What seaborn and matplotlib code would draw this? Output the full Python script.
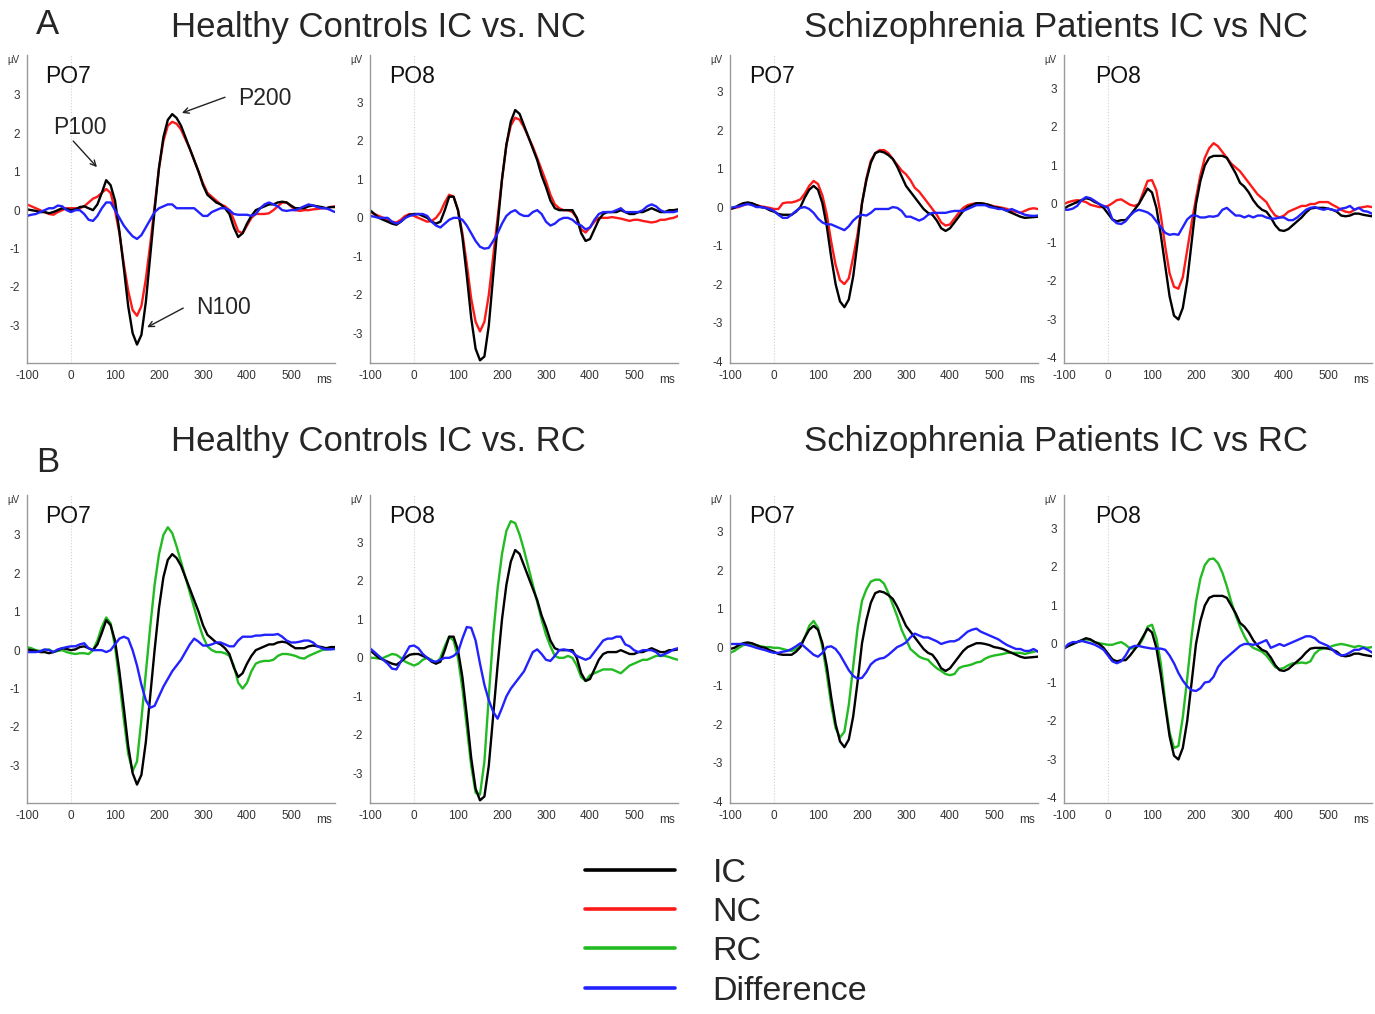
import numpy as np
import pandas as pd
import matplotlib
matplotlib.use("Agg")
import matplotlib.pyplot as plt
from matplotlib.ticker import MultipleLocator
from matplotlib.lines import Line2D
import seaborn as sns

# ---------------------------------------
# Data (µV, sampled every 10 ms from -100 to 600 ms)
# ---------------------------------------
times = np.arange(-100, 601, 10)

# Healthy controls, PO7
hc_po7_ic = [0.02, 0.0, -0.02, -0.05, -0.05, -0.08, -0.05, 0.0, 0.05, 0.03,
             0.0, 0.02, 0.08, 0.1, 0.05, 0.0, 0.15, 0.45, 0.78, 0.65,
             0.25, -0.55, -1.5, -2.5, -3.2, -3.5, -3.25, -2.4, -1.2, 0.0,
             1.1, 1.9, 2.35, 2.5, 2.4, 2.2, 1.9, 1.6, 1.3, 1.0,
             0.65, 0.4, 0.3, 0.2, 0.15, 0.05, -0.1, -0.45, -0.7, -0.6,
             -0.35, -0.15, 0.0, 0.05, 0.1, 0.15, 0.15, 0.2, 0.22, 0.2,
             0.12, 0.05, 0.05, 0.05, 0.1, 0.12, 0.1, 0.08, 0.05, 0.08,
             0.08]
hc_po7_nc = [0.15, 0.1, 0.05, 0.0, -0.05, -0.1, -0.12, -0.05, 0.0, 0.05,
             0.05, 0.05, 0.05, 0.1, 0.2, 0.3, 0.35, 0.45, 0.55, 0.45,
             0.0, -0.6, -1.4, -2.1, -2.6, -2.75, -2.5, -1.8, -0.9, 0.1,
             1.1, 1.8, 2.2, 2.3, 2.25, 2.1, 1.85, 1.6, 1.3, 1.0,
             0.7, 0.45, 0.35, 0.25, 0.15, 0.1, 0.0, -0.25, -0.55, -0.6,
             -0.4, -0.2, -0.1, -0.1, -0.1, -0.08, 0.0, 0.1, 0.2, 0.2,
             0.1, 0.0, -0.02, 0.0, 0.0, 0.02, 0.03, 0.05, 0.05, 0.08,
             0.1]
hc_po7_diff_nc = [-0.15, -0.12, -0.1, -0.05, 0.0, 0.05, 0.05, 0.12, 0.1, 0.0,
                  -0.05, 0.0, 0.0, -0.1, -0.25, -0.28, -0.15, 0.05, 0.2, 0.2,
                  0.0, -0.2, -0.4, -0.55, -0.68, -0.75, -0.65, -0.45, -0.25, -0.05,
                  0.05, 0.1, 0.15, 0.15, 0.05, 0.05, 0.05, 0.05, 0.05, -0.05,
                  -0.15, -0.15, -0.05, 0.0, 0.05, 0.05, 0.0, -0.1, -0.12, -0.12,
                  -0.12, -0.15, -0.1, 0.05, 0.15, 0.2, 0.15, 0.1, 0.0, -0.02,
                  0.0, 0.0, 0.05, 0.1, 0.15, 0.12, 0.08, 0.05, 0.05, 0.0,
                  -0.05]
hc_po7_rc = [0.08, 0.05, 0.0, -0.02, 0.0, 0.02, -0.05, -0.02, 0.0, -0.05,
             -0.08, -0.1, -0.08, -0.08, -0.1, 0.0, 0.25, 0.6, 0.85, 0.7,
             0.1, -0.8, -1.8, -2.7, -3.15, -2.9, -1.8, -0.6, 0.6, 1.7,
             2.5, 3.0, 3.2, 3.05, 2.7, 2.3, 1.9, 1.5, 1.1, 0.7,
             0.35, 0.1, 0.0, -0.05, -0.05, -0.08, -0.15, -0.4, -0.85, -1.0,
             -0.85, -0.55, -0.35, -0.3, -0.28, -0.28, -0.25, -0.15, -0.1, -0.1,
             -0.12, -0.15, -0.2, -0.22, -0.15, -0.1, -0.05, 0.0, 0.02, 0.03,
             0.05]
hc_po7_diff_rc = [-0.05, -0.05, -0.05, -0.03, 0.02, 0.0, -0.05, 0.02, 0.05, 0.08,
                  0.1, 0.1, 0.15, 0.18, 0.05, 0.0, 0.0, 0.0, -0.05, 0.0,
                  0.15, 0.3, 0.35, 0.3, 0.0, -0.4, -0.9, -1.3, -1.5, -1.45,
                  -1.2, -0.95, -0.75, -0.55, -0.4, -0.25, -0.05, 0.15, 0.3, 0.22,
                  0.12, 0.12, 0.15, 0.2, 0.2, 0.15, 0.1, 0.1, 0.25, 0.35,
                  0.35, 0.35, 0.38, 0.38, 0.4, 0.4, 0.4, 0.42, 0.35, 0.25,
                  0.2, 0.2, 0.22, 0.25, 0.25, 0.2, 0.1, 0.05, 0.02, 0.02,
                  0.03]

# Healthy controls, PO8
hc_po8_ic = [0.2, 0.1, 0.0, -0.05, -0.1, -0.15, -0.18, -0.1, 0.0, 0.08,
             0.1, 0.1, 0.05, 0.0, -0.1, -0.15, -0.1, 0.2, 0.55, 0.55,
             0.2, -0.5, -1.5, -2.6, -3.4, -3.7, -3.6, -2.8, -1.5, -0.2,
             1.0, 1.9, 2.5, 2.8, 2.7, 2.4, 2.1, 1.8, 1.5, 1.1,
             0.8, 0.45, 0.25, 0.2, 0.2, 0.2, 0.2, 0.0, -0.4, -0.6,
             -0.55, -0.3, -0.05, 0.1, 0.15, 0.15, 0.15, 0.2, 0.15, 0.1,
             0.1, 0.15, 0.15, 0.2, 0.25, 0.2, 0.15, 0.15, 0.2, 0.2,
             0.22]
hc_po8_nc = [0.15, 0.1, 0.05, 0.0, -0.05, -0.1, -0.12, -0.05, 0.05, 0.1,
             0.05, 0.0, -0.05, -0.1, -0.08, 0.0, 0.15, 0.4, 0.6, 0.55,
             0.2, -0.4, -1.2, -2.1, -2.7, -2.95, -2.7, -2.0, -1.0, 0.0,
             1.0, 1.9, 2.4, 2.6, 2.55, 2.35, 2.1, 1.85, 1.55, 1.25,
             0.95, 0.6, 0.35, 0.25, 0.2, 0.2, 0.15, 0.0, -0.3, -0.38,
             -0.25, -0.1, 0.0, 0.0, 0.0, 0.02, 0.0, -0.02, -0.05, -0.08,
             -0.05, -0.05, -0.08, -0.1, -0.12, -0.1, -0.05, -0.05, -0.02, 0.0,
             0.05]
hc_po8_diff_nc = [0.05, 0.03, 0.0, 0.0, 0.0, -0.1, -0.15, -0.1, 0.0, 0.05,
                  0.08, 0.1, 0.1, 0.05, -0.1, -0.2, -0.25, -0.15, -0.05, 0.0,
                  0.0, -0.05, -0.2, -0.4, -0.6, -0.75, -0.8, -0.78, -0.6, -0.4,
                  -0.15, 0.05, 0.15, 0.2, 0.1, 0.05, 0.05, 0.15, 0.2, 0.1,
                  -0.1, -0.2, -0.15, -0.05, 0.0, 0.0, -0.05, -0.15, -0.2, -0.3,
                  -0.25, -0.05, 0.1, 0.15, 0.15, 0.15, 0.2, 0.25, 0.15, 0.15,
                  0.15, 0.15, 0.2, 0.3, 0.35, 0.3, 0.2, 0.15, 0.15, 0.15,
                  0.18]
hc_po8_rc = [0.0, 0.0, -0.02, 0.0, 0.05, 0.1, 0.08, 0.0, -0.1, -0.15,
             -0.2, -0.15, -0.05, 0.0, -0.05, -0.15, 0.0, 0.3, 0.55, 0.45,
             0.0, -0.8, -1.8, -2.8, -3.5, -3.55, -2.7, -1.0, 0.6, 1.8,
             2.7, 3.3, 3.55, 3.5, 3.2, 2.8, 2.35, 1.9, 1.45, 1.0,
             0.6, 0.3, 0.05, 0.0, 0.0, 0.05, 0.0, -0.2, -0.5, -0.6,
             -0.45, -0.4, -0.35, -0.3, -0.3, -0.3, -0.35, -0.4, -0.3, -0.2,
             -0.15, -0.1, -0.05, -0.05, 0.0, 0.05, 0.05, 0.05, 0.02, -0.02,
             -0.05]
hc_po8_diff_rc = [0.25, 0.15, 0.05, -0.05, -0.15, -0.28, -0.3, -0.1, 0.1, 0.3,
                  0.32, 0.25, 0.1, 0.0, -0.08, -0.1, -0.05, 0.0, 0.0, 0.05,
                  0.15, 0.5, 0.8, 0.78, 0.45, -0.15, -0.7, -1.1, -1.4, -1.58,
                  -1.3, -1.0, -0.8, -0.65, -0.5, -0.35, -0.1, 0.15, 0.22, 0.1,
                  -0.05, -0.08, 0.05, 0.2, 0.22, 0.2, 0.15, 0.05, 0.0, -0.05,
                  0.0, 0.15, 0.3, 0.45, 0.5, 0.5, 0.55, 0.55, 0.35, 0.3,
                  0.2, 0.15, 0.2, 0.2, 0.2, 0.15, 0.05, 0.1, 0.15, 0.22,
                  0.25]

# Schizophrenia patients, PO7
sz_po7_ic = [-0.05, -0.02, 0.05, 0.1, 0.12, 0.1, 0.05, 0.0, -0.02, -0.08,
             -0.12, -0.18, -0.2, -0.2, -0.2, -0.12, 0.0, 0.25, 0.45, 0.55,
             0.45, 0.1, -0.5, -1.3, -2.0, -2.45, -2.6, -2.4, -1.8, -0.9,
             0.1, 0.7, 1.15, 1.4, 1.45, 1.42, 1.35, 1.25, 1.05, 0.8,
             0.55, 0.4, 0.25, 0.1, -0.05, -0.15, -0.2, -0.35, -0.55, -0.62,
             -0.55, -0.4, -0.25, -0.1, 0.0, 0.05, 0.1, 0.1, 0.08, 0.05,
             0.0, -0.02, -0.05, -0.1, -0.15, -0.2, -0.25, -0.28, -0.27, -0.26,
             -0.25]
sz_po7_nc = [-0.05, -0.02, 0.0, 0.05, 0.08, 0.08, 0.05, 0.02, 0.0, -0.02,
             -0.05, -0.05, 0.1, 0.12, 0.12, 0.15, 0.2, 0.35, 0.55, 0.68,
             0.6, 0.3, -0.2, -0.9, -1.5, -1.9, -2.0, -1.85, -1.3, -0.7,
             0.1, 0.75, 1.2, 1.4, 1.48, 1.48, 1.4, 1.25, 1.1, 0.95,
             0.85, 0.7, 0.5, 0.4, 0.25, 0.1, -0.05, -0.2, -0.4, -0.48,
             -0.45, -0.3, -0.15, -0.02, 0.05, 0.08, 0.1, 0.1, 0.08, 0.05,
             0.02, 0.0, -0.02, -0.05, -0.1, -0.12, -0.15, -0.1, -0.05, -0.03,
             -0.05]
sz_po7_diff_nc = [-0.02, 0.0, 0.02, 0.05, 0.08, 0.05, 0.0, 0.0, -0.02, -0.05,
                  -0.1, -0.2, -0.28, -0.28, -0.2, -0.1, -0.02, 0.0, -0.05, -0.15,
                  -0.3, -0.4, -0.45, -0.45, -0.5, -0.55, -0.6, -0.5, -0.35, -0.25,
                  -0.2, -0.22, -0.15, -0.05, -0.05, -0.05, -0.05, 0.0, -0.02, -0.1,
                  -0.25, -0.25, -0.3, -0.35, -0.3, -0.2, -0.15, -0.15, -0.15, -0.15,
                  -0.12, -0.1, -0.1, -0.1, -0.05, 0.0, 0.05, 0.05, 0.05, 0.0,
                  -0.02, -0.05, -0.05, -0.1, -0.05, -0.1, -0.15, -0.2, -0.22, -0.23,
                  -0.22]
sz_po7_rc = [-0.15, -0.1, -0.02, 0.05, 0.08, 0.08, 0.05, 0.02, 0.0, 0.0,
             -0.02, -0.02, -0.05, -0.08, -0.1, -0.05, 0.05, 0.25, 0.55, 0.68,
             0.5, 0.0, -0.7, -1.5, -2.1, -2.35, -2.2, -1.5, -0.5, 0.5,
             1.2, 1.5, 1.7, 1.75, 1.75, 1.65, 1.4, 1.1, 0.8, 0.45,
             0.2, -0.05, -0.15, -0.25, -0.3, -0.33, -0.45, -0.55, -0.62, -0.7,
             -0.73, -0.7, -0.55, -0.5, -0.48, -0.45, -0.4, -0.38, -0.3, -0.25,
             -0.22, -0.2, -0.18, -0.15, -0.15, -0.15, -0.15, -0.18, -0.15, -0.12,
             -0.1]
sz_po7_diff_rc = [0.08, 0.08, 0.08, 0.08, 0.05, 0.02, -0.02, -0.05, -0.08, -0.12,
                  -0.15, -0.15, -0.12, -0.1, -0.05, 0.02, 0.1, 0.0, -0.1, -0.2,
                  -0.25, -0.15, 0.0, 0.02, -0.05, -0.2, -0.4, -0.6, -0.75, -0.82,
                  -0.8, -0.65, -0.45, -0.35, -0.3, -0.28, -0.2, -0.1, 0.0, 0.05,
                  0.12, 0.25, 0.35, 0.3, 0.25, 0.25, 0.2, 0.15, 0.08, 0.12,
                  0.15, 0.15, 0.2, 0.3, 0.4, 0.45, 0.48, 0.4, 0.35, 0.3,
                  0.25, 0.2, 0.12, 0.05, 0.0, -0.05, -0.05, -0.1, -0.1, -0.05,
                  -0.12]

# Schizophrenia patients, PO8
sz_po8_ic = [-0.12, -0.05, 0.0, 0.05, 0.1, 0.15, 0.12, 0.05, 0.0, -0.1,
             -0.25, -0.4, -0.45, -0.42, -0.42, -0.3, -0.15, 0.0, 0.2, 0.4,
             0.3, -0.1, -0.8, -1.6, -2.4, -2.9, -3.0, -2.7, -2.0, -1.0,
             0.0, 0.6, 1.0, 1.2, 1.25, 1.25, 1.25, 1.2, 1.0, 0.8,
             0.55, 0.45, 0.3, 0.1, -0.05, -0.15, -0.2, -0.35, -0.55, -0.68,
             -0.7, -0.65, -0.55, -0.45, -0.35, -0.22, -0.12, -0.1, -0.1, -0.1,
             -0.12, -0.15, -0.2, -0.3, -0.32, -0.3, -0.25, -0.25, -0.28, -0.3,
             -0.32]
sz_po8_nc = [0.0, 0.05, 0.08, 0.1, 0.08, 0.05, -0.02, -0.05, -0.08, -0.08,
             -0.05, 0.02, 0.1, 0.12, 0.05, -0.02, -0.05, 0.0, 0.3, 0.6,
             0.62, 0.35, -0.3, -1.1, -1.8, -2.15, -2.2, -1.9, -1.2, -0.5,
             0.15, 0.75, 1.2, 1.45, 1.58, 1.5, 1.35, 1.2, 1.05, 0.95,
             0.85, 0.7, 0.55, 0.4, 0.25, 0.15, 0.05, -0.15, -0.3, -0.35,
             -0.3, -0.2, -0.15, -0.1, -0.05, -0.05, 0.0, 0.0, 0.05, 0.05,
             0.05, -0.02, -0.08, -0.15, -0.2, -0.22, -0.15, -0.1, -0.08, -0.06,
             -0.08]
sz_po8_diff_nc = [-0.15, -0.15, -0.12, -0.05, 0.1, 0.18, 0.15, 0.08, 0.0, -0.05,
                  -0.1, -0.4, -0.5, -0.52, -0.45, -0.3, -0.2, -0.15, -0.18, -0.22,
                  -0.3, -0.45, -0.6, -0.75, -0.8, -0.78, -0.8, -0.6, -0.4, -0.3,
                  -0.3, -0.35, -0.35, -0.32, -0.33, -0.3, -0.15, -0.1, -0.2, -0.3,
                  -0.3, -0.35, -0.3, -0.35, -0.3, -0.3, -0.35, -0.38, -0.38, -0.35,
                  -0.35, -0.42, -0.42, -0.35, -0.25, -0.15, -0.1, -0.08, -0.12, -0.15,
                  -0.12, -0.15, -0.18, -0.12, -0.1, -0.05, -0.15, -0.1, -0.18, -0.2,
                  -0.25]
sz_po8_rc = [-0.1, -0.05, 0.0, 0.05, 0.08, 0.12, 0.1, 0.05, 0.02, 0.0,
             -0.02, -0.02, 0.02, 0.05, -0.02, -0.12, -0.1, -0.05, 0.15, 0.45,
             0.5, 0.15, -0.5, -1.5, -2.3, -2.7, -2.65, -1.9, -0.9, 0.2,
             1.1, 1.7, 2.05, 2.2, 2.22, 2.1, 1.85, 1.5, 1.1, 0.75,
             0.45, 0.2, 0.0, -0.1, -0.15, -0.2, -0.3, -0.45, -0.6, -0.65,
             -0.62, -0.55, -0.5, -0.5, -0.48, -0.5, -0.45, -0.25, -0.15, -0.12,
             -0.1, -0.05, -0.02, 0.0, -0.02, -0.05, -0.08, -0.05, -0.08, -0.1,
             -0.08]
sz_po8_diff_rc = [-0.12, 0.0, 0.05, 0.05, 0.08, 0.05, 0.02, -0.02, -0.08, -0.15,
                  -0.3, -0.45, -0.5, -0.45, -0.3, -0.1, -0.05, -0.05, -0.08, -0.1,
                  -0.12, -0.12, -0.12, -0.15, -0.3, -0.5, -0.75, -0.95, -1.1, -1.2,
                  -1.22, -1.15, -1.0, -0.98, -0.85, -0.6, -0.45, -0.35, -0.25, -0.15,
                  -0.05, 0.0, 0.0, -0.02, 0.0, 0.05, 0.1, -0.1, -0.05, 0.0,
                  -0.05, 0.0, 0.05, 0.1, 0.15, 0.2, 0.2, 0.15, 0.05, 0.0,
                  -0.05, -0.15, -0.25, -0.3, -0.28, -0.22, -0.15, -0.15, -0.1, -0.15,
                  -0.22]

conditions = ["IC", "NC", "RC", "Difference"]
colors = {"IC": "#000000", "NC": "#ff1a1a", "RC": "#22bb22", "Difference": "#2222ff"}

# ---------------------------------------
# Layout (pixels in a 1375 x 1014 figure)
# ---------------------------------------
W, H = 1375, 1014
col_left = [27, 370, 730, 1064]
row_top = [55, 495]
panel_w, panel_h = 308, 308
col_ylim = [(-3.98, 4.04), (-3.77, 4.23), (-4.05, 3.95), (-4.13, 3.87)]
col_yticks = [range(-3, 4), range(-3, 4), range(-4, 4), range(-4, 4)]
col_label_x = [0.058, 0.063, 0.063, 0.1]

panels = [
    (0, 0, "PO7", hc_po7_ic, "NC", hc_po7_nc, hc_po7_diff_nc),
    (0, 1, "PO8", hc_po8_ic, "NC", hc_po8_nc, hc_po8_diff_nc),
    (0, 2, "PO7", sz_po7_ic, "NC", sz_po7_nc, sz_po7_diff_nc),
    (0, 3, "PO8", sz_po8_ic, "NC", sz_po8_nc, sz_po8_diff_nc),
    (1, 0, "PO7", hc_po7_ic, "RC", hc_po7_rc, hc_po7_diff_rc),
    (1, 1, "PO8", hc_po8_ic, "RC", hc_po8_rc, hc_po8_diff_rc),
    (1, 2, "PO7", sz_po7_ic, "RC", sz_po7_rc, sz_po7_diff_rc),
    (1, 3, "PO8", sz_po8_ic, "RC", sz_po8_rc, sz_po8_diff_rc),
]

sns.set_style("white")
plt.rcParams["font.family"] = ["Liberation Sans", "DejaVu Sans"]
plt.rcParams["axes.unicode_minus"] = False

fig = plt.figure(figsize=(W / 100, H / 100), dpi=100)
axes = {}

for row, col, elec, ic, other_name, other, diff in panels:
    rect = [col_left[col] / W, 1 - (row_top[row] + panel_h) / H, panel_w / W, panel_h / H]
    ax = fig.add_axes(rect)
    axes[(row, col)] = ax

    df = pd.concat([
        pd.DataFrame({"ms": times, "uV": other, "cond": other_name}),
        pd.DataFrame({"ms": times, "uV": ic, "cond": "IC"}),
        pd.DataFrame({"ms": times, "uV": diff, "cond": "Difference"}),
    ])
    sns.lineplot(data=df, x="ms", y="uV", hue="cond", palette=colors,
                 hue_order=[other_name, "IC", "Difference"], estimator=None,
                 lw=1.7, legend=False, ax=ax)

    ax.axvline(0, color="#d0d0d0", lw=0.8, ls=":", zorder=0)
    ax.set_xlim(-100, 600)
    ax.set_ylim(*col_ylim[col])
    ax.set_xticks(range(-100, 501, 100))
    ax.set_yticks(list(col_yticks[col]))
    ax.xaxis.set_minor_locator(MultipleLocator(10))
    ax.yaxis.set_minor_locator(MultipleLocator(0.2))
    ax.tick_params(axis="both", which="major", labelsize=8.5, colors="#888888",
                   labelcolor="#333333", length=3, width=0.8, pad=2)
    ax.tick_params(axis="both", which="minor", colors="#999999", length=2, width=0.7)
    ax.set_xlabel("")
    ax.set_ylabel("")
    for side in ["top", "right"]:
        ax.spines[side].set_visible(False)
    for side in ["left", "bottom"]:
        ax.spines[side].set_color("#999999")
        ax.spines[side].set_linewidth(1.0)

    ax.text(575, -0.035, "ms", transform=ax.get_xaxis_transform(), fontsize=8.5,
            color="#333333", ha="center", va="top")
    ax.text(-0.025, 1.0, "µV", transform=ax.transAxes, fontsize=7,
            color="#333333", ha="right", va="top")
    ax.text(col_label_x[col], 0.93, elec, transform=ax.transAxes, fontsize=16.5,
            color="#111111", ha="left", va="center")

# component annotations on the first panel
ax = axes[(0, 0)]
arrow = dict(arrowstyle="->", color="#222222", lw=1.0, shrinkA=0, shrinkB=0)
ax.annotate("", xy=(252, 2.53), xytext=(350, 2.94), arrowprops=arrow)
ax.text(380, 2.92, "P200", fontsize=16.5, va="center", ha="left")
ax.annotate("", xy=(59, 1.12), xytext=(5, 1.80), arrowprops=arrow)
ax.text(-41, 2.14, "P100", fontsize=16.5, va="center", ha="left")
ax.annotate("", xy=(173, -3.05), xytext=(255, -2.55), arrowprops=arrow)
ax.text(284, -2.53, "N100", fontsize=16.5, va="center", ha="left")

# titles and panel letters
title_size = 25
fig.text(48 / W, 1 - 25 / H, "A", fontsize=title_size, ha="center", va="center")
fig.text(48 / W, 1 - 462 / H, "B", fontsize=title_size, ha="center", va="center")
fig.text(378 / W, 1 - 27 / H, "Healthy Controls IC vs. NC", fontsize=title_size,
         ha="center", va="center")
fig.text(1056 / W, 1 - 27 / H, "Schizophrenia Patients IC vs NC", fontsize=title_size,
         ha="center", va="center")
fig.text(378 / W, 1 - 441 / H, "Healthy Controls IC vs. RC", fontsize=title_size,
         ha="center", va="center")
fig.text(1056 / W, 1 - 441 / H, "Schizophrenia Patients IC vs RC", fontsize=title_size,
         ha="center", va="center")

# legend
handles = [Line2D([], [], color=colors[c], lw=2.6) for c in conditions]
fig.legend(handles, conditions, loc="upper left",
           bbox_to_anchor=(585 / W, 1 - 858 / H), frameon=False, fontsize=24.5,
           handlelength=2.65, handletextpad=1.1, labelspacing=0.24,
           borderpad=0, borderaxespad=0)

fig.savefig("out.png", dpi=100)
